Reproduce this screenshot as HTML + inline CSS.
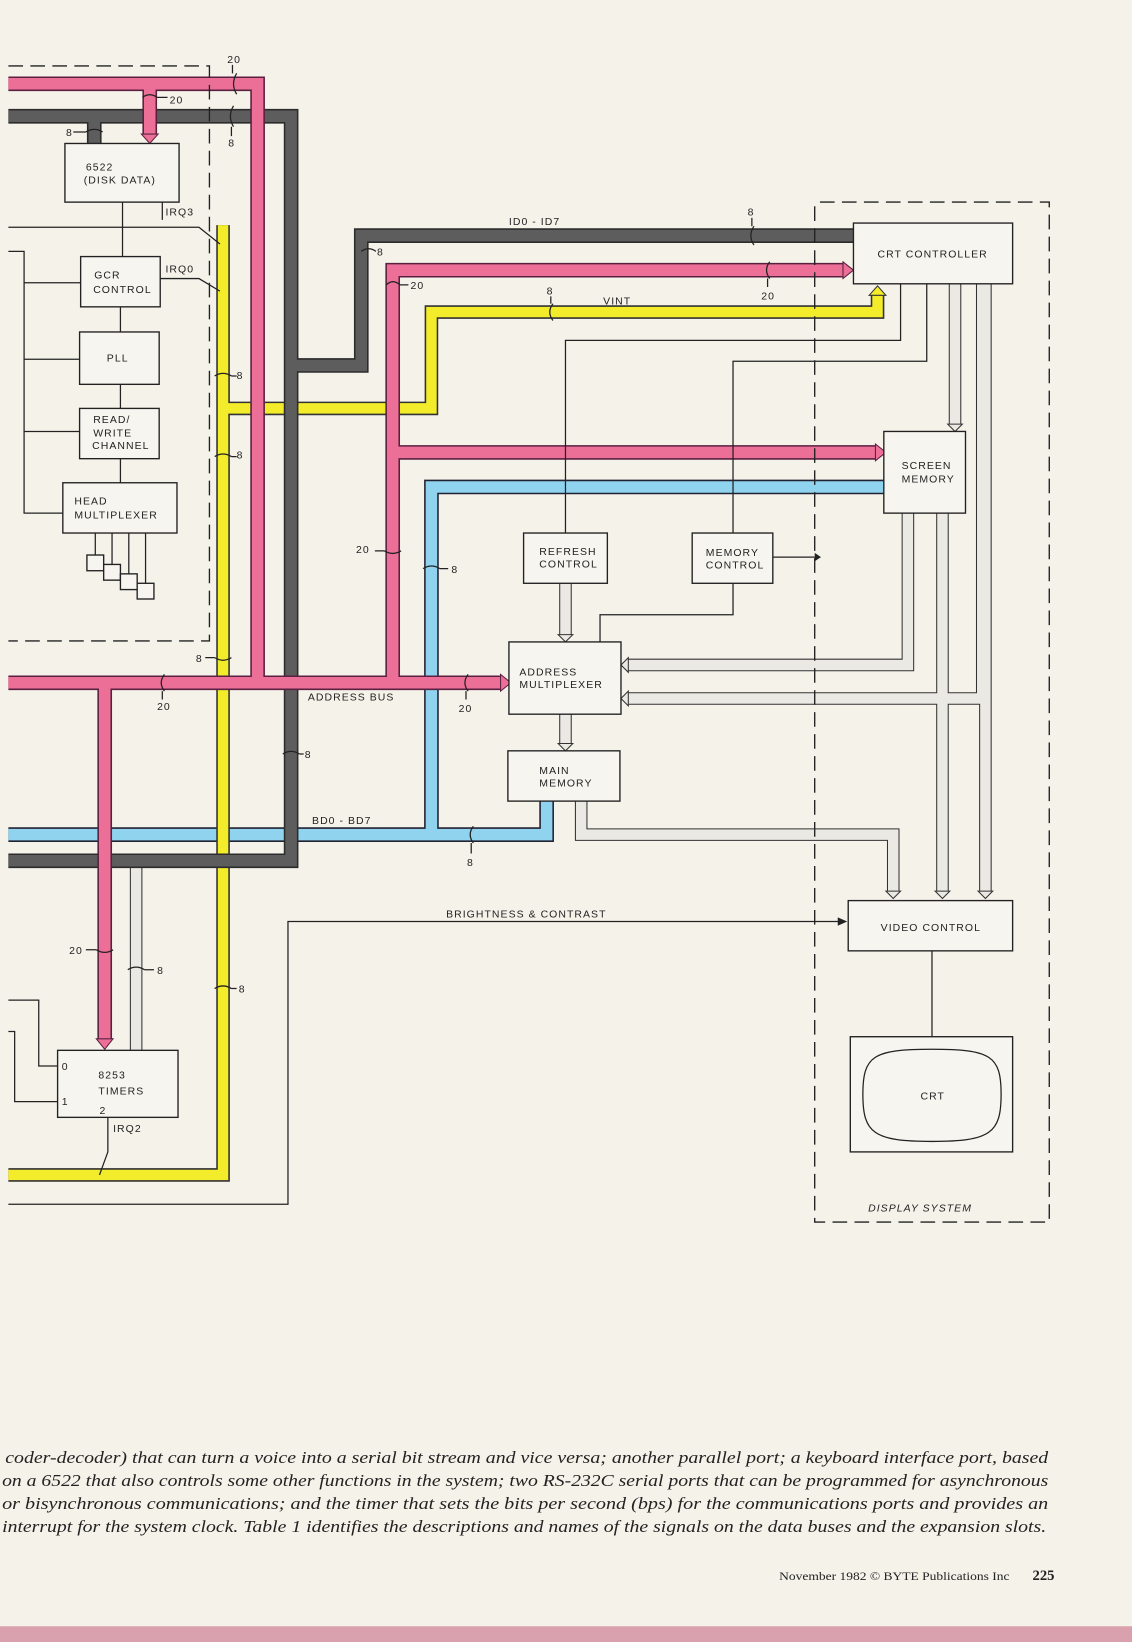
<!DOCTYPE html>
<html><head><meta charset="utf-8"><style>
html,body{margin:0;padding:0;background:#f5f2ea;}
svg{display:block}
.l{font-family:"Liberation Sans",sans-serif;font-size:10px;letter-spacing:1px;fill:#222}
.p{font-family:"Liberation Serif",serif;font-style:italic;font-size:16px;fill:#222}
</style></head><body>
<svg width="1132" height="1642" viewBox="0 0 1081 1568" xmlns="http://www.w3.org/2000/svg">
<rect x="0" y="0" width="1081" height="1568" fill="#f5f2ea"/>
<rect x="0" y="1553" width="1081" height="15" fill="#d9a0ae"/>
<defs>
<g id="pk" fill="none">
<path d="M8 80 H246 V652"/>
<path d="M143 80 V128"/>
<path d="M8 652 H478"/>
<path d="M100 652 V992"/>
<path d="M375 652 V258 H805"/>
<path d="M375 432 H836"/>
</g>
<g id="gy" fill="none">
<path d="M8 111 H278 V822 H8"/>
<path d="M90 111 V137"/>
<path d="M278 349 H345 V225 H815"/>
</g>
<g id="yl" fill="none">
<path d="M213 215 V1122 H8"/>
<path d="M213 390 H412 V298 H838 V282"/>
</g>
<g id="bl" fill="none">
<path d="M8 797 H522 V765"/>
<path d="M412 800 V465 H844"/>
</g>
<g id="hl" fill="none">
<path d="M130 822 V1003"/>
<path d="M912 271 V405"/>
<path d="M540 557 V606"/>
<path d="M540 682 V710"/>
<path d="M555 765 V797 H853 V851"/>
<path d="M900 490 V851"/>
<path d="M941 271 V851"/>
<path d="M867 490 V635 H600"/>
<path d="M938 271 V667 H600"/>
</g>
</defs>
<g stroke-linejoin="miter" stroke-linecap="butt">
<use href="#hl" stroke="#333" stroke-width="12"/>
<use href="#hl" stroke="#ebe9e4" stroke-width="10"/>
<use href="#bl" stroke="#223" stroke-width="14"/>
<use href="#bl" stroke="#8fd3ee" stroke-width="11"/>
<use href="#yl" stroke="#333" stroke-width="13"/>
<use href="#yl" stroke="#f3ec2a" stroke-width="10"/>
<use href="#gy" stroke="#2c2c2c" stroke-width="14"/>
<use href="#gy" stroke="#5d5d5d" stroke-width="11"/>
<use href="#pk" stroke="#5a2040" stroke-width="14"/>
<use href="#pk" stroke="#ec6f98" stroke-width="11"/>
</g>
<!-- arrowheads -->
<g fill="#ec6f98" stroke="#5a2040" stroke-width="1">
<polygon points="805,250 815,258 805,266"/>
<polygon points="836,424 846,432 836,440"/>
<polygon points="478,644 488,652 478,660"/>
<polygon points="135,128 143,137 151,128"/>
<polygon points="92,992 100,1002 108,992"/>
</g>
<polygon points="830,282 838,273 846,282" fill="#f3ec2a" stroke="#333"/>
<g fill="#ebe9e4" stroke="#333" stroke-width="1">
<polygon points="905,405 912,412 919,405"/>
<polygon points="533,606 540,613 547,606"/>
<polygon points="533,710 540,717 547,710"/>
<polygon points="846,851 853,858 860,851"/>
<polygon points="893,851 900,858 907,851"/>
<polygon points="934,851 941,858 948,851"/>
<polygon points="600,628 593,635 600,642"/>
<polygon points="600,660 593,667 600,674"/>
</g>
<!-- thin lines -->
<g stroke="#222" stroke-width="1.2" fill="none">
<path d="M860 271 V325 H540 V509"/>
<path d="M885 271 V345 H700 V509"/>
<path d="M738 532 H778"/>
<path d="M700 557 V587 H573 V613"/>
<path d="M8 1150 H275 V880 H805"/>
<path d="M890 908 V990"/>
<path d="M117 193 V245 M115 293 V317 M115 367 V390 M115 438 V461"/>
<path d="M8 240 H23 V490 H60 M23 270 H77 M23 343 H76 M23 412 H76"/>
<path d="M155 193 V210 M8 217 H190 L210 233"/>
<path d="M153 266 H190 L210 278"/>
<path d="M8 955 H37 V1018 H55 M8 985 H14 V1052 H55"/>
<path d="M103 1067 V1100 L95 1122"/>
<path d="M91 509 V530 M107 509 V539 M123 509 V548 M139 509 V557"/>
</g>
<polygon points="778,528 784,532 778,536" fill="#222"/>
<polygon points="800,876 809,880 800,884" fill="#222"/>
<g stroke="#222" stroke-width="1.3" fill="none" stroke-dasharray="14,7">
<path d="M8 63 H200 V612 H8"/>
<path d="M783 193 H1002 V1167 H778 V193"/>
</g>
<!-- boxes -->
<g fill="#f7f5ef" stroke="#222" stroke-width="1.3">
<rect x="62" y="137" width="109" height="56"/>
<rect x="77" y="245" width="76" height="48"/>
<rect x="76" y="317" width="76" height="50"/>
<rect x="76" y="390" width="76" height="48"/>
<rect x="60" y="461" width="109" height="48"/>
<rect x="83" y="530" width="16" height="15"/>
<rect x="99" y="539" width="16" height="15"/>
<rect x="115" y="548" width="16" height="15"/>
<rect x="131" y="557" width="16" height="15"/>
<rect x="815" y="213" width="152" height="58"/>
<rect x="844" y="412" width="78" height="78"/>
<rect x="500" y="509" width="80" height="48"/>
<rect x="661" y="509" width="77" height="48"/>
<rect x="486" y="613" width="107" height="69"/>
<rect x="485" y="717" width="107" height="48"/>
<rect x="810" y="860" width="157" height="48"/>
<rect x="812" y="990" width="155" height="110"/>
<rect x="55" y="1003" width="115" height="64"/>
</g>
<path d="M824 1045 C824 1008 834 1002 890 1002 C946 1002 956 1008 956 1045 C956 1082 946 1090 890 1090 C834 1090 824 1082 824 1045 Z" fill="none" stroke="#222" stroke-width="1.2"/>
<!-- labels -->
<g class="l">
<text x="82" y="163">6522</text><text x="80" y="175">(DISK DATA)</text>
<text x="90" y="266">GCR</text><text x="89" y="280">CONTROL</text>
<text x="102" y="345">PLL</text>
<text x="89" y="404">READ/</text><text x="89" y="417">WRITE</text><text x="88" y="429">CHANNEL</text>
<text x="71" y="482">HEAD</text><text x="71" y="495">MULTIPLEXER</text>
<text x="158" y="206">IRQ3</text><text x="158" y="260">IRQ0</text>
<text x="838" y="246">CRT CONTROLLER</text>
<text x="861" y="448">SCREEN</text><text x="861" y="461">MEMORY</text>
<text x="515" y="530">REFRESH</text><text x="515" y="542">CONTROL</text>
<text x="674" y="531">MEMORY</text><text x="674" y="543">CONTROL</text>
<text x="496" y="645">ADDRESS</text><text x="496" y="657">MULTIPLEXER</text>
<text x="515" y="739">MAIN</text><text x="515" y="751">MEMORY</text>
<text x="841" y="889">VIDEO CONTROL</text>
<text x="879" y="1050">CRT</text>
<text x="94" y="1030">8253</text><text x="94" y="1045">TIMERS</text>
<text x="59" y="1022">0</text><text x="59" y="1055">1</text><text x="95" y="1064">2</text>
<text x="108" y="1081">IRQ2</text>
<text x="486" y="215">ID0 - ID7</text>
<text x="576" y="291">VINT</text>
<text x="294" y="669">ADDRESS BUS</text>
<text x="298" y="787">BD0 - BD7</text>
<text x="426" y="876">BRIGHTNESS &amp; CONTRAST</text>
<text x="829" y="1157" style="font-style:italic">DISPLAY SYSTEM</text>
<text x="217" y="60">20</text><text x="162" y="99">20</text><text x="63" y="130">8</text><text x="218" y="140">8</text>
<text x="360" y="244">8</text><text x="392" y="276">20</text><text x="522" y="281">8</text><text x="714" y="206">8</text><text x="727" y="286">20</text>
<text x="226" y="362">8</text><text x="226" y="438">8</text><text x="340" y="528">20</text><text x="431" y="547">8</text>
<text x="187" y="632">8</text><text x="150" y="678">20</text><text x="438" y="680">20</text><text x="291" y="724">8</text><text x="446" y="827">8</text>
<text x="66" y="911">20</text><text x="150" y="930">8</text><text x="228" y="948">8</text>
</g>
<!-- crossing ticks -->
<g stroke="#222" stroke-width="1.2" fill="none">
<path d="M226 70 Q220 80 226 90 M222 62 V70"/>
<path d="M136 93 Q143 88 150 93 M150 93 H160"/>
<path d="M223 101 Q217 111 223 121 M221 121 V130"/>
<path d="M82 126 Q90 121 98 126 M70 126 H82"/>
<path d="M345 240 Q352 235 359 240"/>
<path d="M369 272 Q375 266 382 272 M382 272 H390"/>
<path d="M528 290 Q522 298 528 306 M526 283 V290"/>
<path d="M720 216 Q714 225 720 234 M718 208 V216"/>
<path d="M735 250 Q729 258 735 266 M733 266 V274"/>
<path d="M205 359 Q213 354 221 359 M221 359 H226"/>
<path d="M205 436 Q213 431 221 436 M221 436 H226"/>
<path d="M367 526 Q375 531 383 526 M358 526 H367"/>
<path d="M404 543 Q412 538 420 543 M420 543 H428"/>
<path d="M205 628 Q213 633 221 628 M196 628 H205"/>
<path d="M157 644 Q151 652 157 660 M155 660 V668"/>
<path d="M447 644 Q441 652 447 660 M445 660 V668"/>
<path d="M270 720 Q278 715 286 720 M286 720 H290"/>
<path d="M452 789 Q446 797 452 805 M450 805 V815"/>
<path d="M92 907 Q100 912 108 907 M82 907 H92"/>
<path d="M122 926 Q130 921 138 926 M138 926 H147"/>
<path d="M205 944 Q213 939 221 944 M221 944 H226"/>
</g>
<!-- paragraph -->
<g class="p">
<text x="5" y="1397" textLength="996" lengthAdjust="spacingAndGlyphs">coder-decoder) that can turn a voice into a serial bit stream and vice versa; another parallel port; a keyboard interface port, based</text>
<text x="2" y="1419" textLength="999" lengthAdjust="spacingAndGlyphs">on a 6522 that also controls some other functions in the system; two RS-232C serial ports that can be programmed for asynchronous</text>
<text x="2" y="1441" textLength="999" lengthAdjust="spacingAndGlyphs">or bisynchronous communications; and the timer that sets the bits per second (bps) for the communications ports and provides an</text>
<text x="2" y="1463" textLength="997" lengthAdjust="spacingAndGlyphs">interrupt for the system clock. Table 1 identifies the descriptions and names of the signals on the data buses and the expansion slots.</text>
</g>
<text x="744" y="1509" style="font-family:'Liberation Serif',serif;font-size:11px;fill:#222" textLength="220" lengthAdjust="spacingAndGlyphs">November 1982 © BYTE Publications Inc</text>
<text x="986" y="1509" style="font-family:'Liberation Serif',serif;font-size:14px;font-weight:bold;fill:#222">225</text>
</svg>
</body></html>
